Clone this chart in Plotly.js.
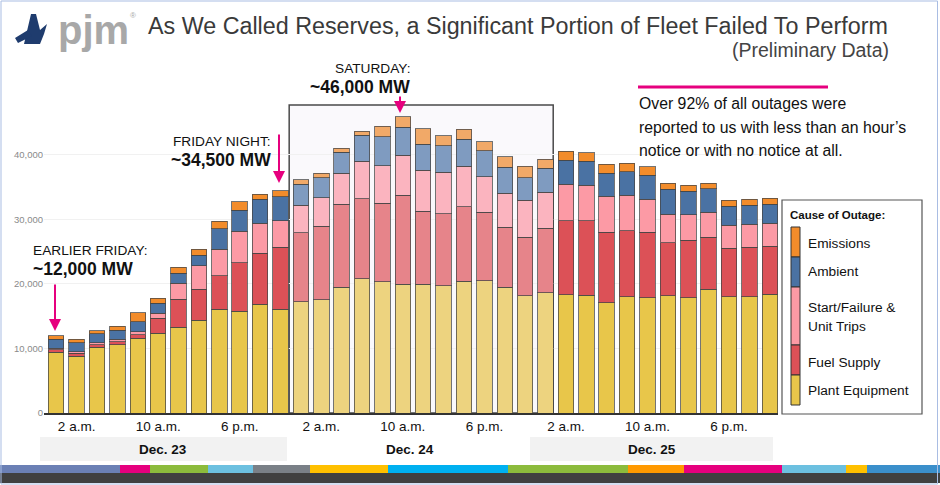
<!DOCTYPE html>
<html>
<head>
<meta charset="utf-8">
<script src="https://cdn.plot.ly/plotly-3.0.1.min.js"></script>
<style>
html,body{margin:0;padding:0;background:#fff;}
#chart{width:940px;height:485px;}
</style>
</head>
<body>
<div id="chart"></div>
<script>
// ---------------- data ----------------
const hours = [0,2,4,6,8,10,12,14,16,18,20,22,24,26,28,30,32,34,36,38,40,42,44,46,48,50,52,54,56,58,60,62,64,66,68,70];
const plantEquipment = [9400,8800,10200,10550,11600,12350,13300,14400,16050,15750,16850,16050,17200,17500,19500,20750,20300,19900,19950,19700,20400,20450,19450,18150,18650,18300,18200,17050,18000,17850,18150,17850,19150,18000,18000,18350];
const fuelSupply = [400,450,400,500,500,2300,4300,4750,5200,7550,7850,9650,10700,11400,12800,12450,12200,13800,11300,11150,11500,10650,9350,9100,9950,11500,11600,10950,10200,10150,8200,8900,8100,7500,7650,7500];
const startFailure = [200,250,300,400,500,800,2500,3650,4100,4850,4650,4100,4300,4450,4850,5750,5800,6200,6300,6450,6300,5500,5250,5700,5600,5650,5500,5550,5500,5100,4450,3950,3850,3600,3550,3550];
const ambient = [1450,1400,1350,1350,1550,1550,1550,1650,3150,3250,3750,3700,3200,3100,3250,4050,4500,4350,4100,4100,4200,4000,4000,3500,3700,3700,3650,3600,3650,3700,3850,3600,3600,2950,3000,2950];
const emissions = [550,500,500,600,1400,750,900,900,1200,1300,750,950,750,700,600,600,1600,1650,2350,1500,1500,1400,1650,1750,1400,1350,1350,1400,1350,1300,950,950,900,900,900,900];
const seriesNames = ["Plant Equipment","Fuel Supply","Start/Failure & Unit Trips","Ambient","Emissions"];
const tickHours = [2,10,18,26,34,42,50,58,66];
const tickLabels = ["2 a.m.","10 a.m.","6 p.m.","2 a.m.","10 a.m.","6 p.m.","2 a.m.","10 a.m.","6 p.m."];
const dayLabels = ["Dec. 23","Dec. 24","Dec. 25"];
const yTicks = [0,10000,20000,30000,40000];

// ---------------- styles ----------------
const darkColors  = ["#E8C64A","#DC5157","#FC9AA5","#4A72A3","#F28C2B"];
const lightColors = ["#EDD37F","#E6848A","#FBB4BF","#7F9BC0","#F1A968"];
const highlightFrom = 24, highlightTo = 48; // Saturday window (hours)
const FONT = "'Liberation Sans',Arial,sans-serif";

const W=940,H=485,L=44,R=162,T=103,B=72;
const pw=W-L-R, ph=H-T-B;
const px = x => (x-L)/pw;
const py = y => (H-B-y)/ph;

const allSeries=[plantEquipment,fuelSupply,startFailure,ambient,emissions];
const traces = allSeries.map((vals,i)=>({
  type:'bar', x:hours, y:vals, name:seriesNames[i],
  marker:{
    color: hours.map(h => (h>=highlightFrom && h<=highlightTo) ? lightColors[i] : darkColors[i]),
    line:{color:'rgba(70,70,70,0.75)', width:1}
  },
  hoverinfo:'skip'
}));

const shapes = [];
const annotations = [];
const txt = (x,y,text,size,anchor,color,extra) => annotations.push(Object.assign({xref:'paper',yref:'paper',x:px(x),y:py(y),text:text,showarrow:false,xanchor:anchor||'left',yanchor:'middle',font:{family:FONT,size:size,color:color||'#111'}},extra||{}));

// Saturday highlight box
shapes.push({type:'rect', xref:'x', yref:'paper', x0:22.85, x1:48.75, y0:0, y1:py(105),
  fillcolor:'#faf9fc', line:{color:'#4a4a4a', width:1.5}, layer:'below'});

// Day label bands
shapes.push({type:'rect', xref:'paper', yref:'paper', x0:px(40), x1:px(287), y0:py(461), y1:py(437), fillcolor:'#f2f2f2', line:{width:0}});
shapes.push({type:'rect', xref:'paper', yref:'paper', x0:px(530), x1:px(773), y0:py(461), y1:py(437), fillcolor:'#f2f2f2', line:{width:0}});
const dayCenters=[163,410,652];
dayLabels.forEach((d,i)=>txt(dayCenters[i],449,'<b>'+d+'</b>',13.5,'center'));

// Bottom decorative stripes
const stripes=[[0,120,'#6B80B5'],[120,150,'#E6007E'],[150,208,'#8CBB3C'],[208,253,'#6CC0E0'],[253,310,'#7A8087'],[310,388,'#FFC000'],[388,508,'#00B0F0'],[508,628,'#8CBB3C'],[628,684,'#FF9900'],[684,782,'#E6007E'],[782,846,'#6CC0E0'],[846,867,'#FFC000'],[867,940,'#3B8FCB']];
stripes.forEach(s=>shapes.push({type:'rect',xref:'paper',yref:'paper',x0:px(s[0]),x1:px(s[1]),y0:py(473),y1:py(465),fillcolor:s[2],line:{width:0}}));
shapes.push({type:'rect',xref:'paper',yref:'paper',x0:px(0),x1:px(940),y0:py(483),y1:py(473),fillcolor:'#404040',line:{width:0}});
shapes.push({type:'rect',xref:'paper',yref:'paper',x0:px(1),x1:px(937.5),y0:py(484),y1:py(1),line:{color:'#a9bde3',width:1}});

// Title
txt(146,26,'As We Called Reserves, a Significant Portion of Fleet Failed To Perform',23.3,'left','#3a3a3a');
txt(891,50,'(Preliminary Data)',19.5,'right','#444');

// Logo
txt(56,30,'<b>pjm</b>',40,'left','#a8a8a8');
txt(128,16,'®',8,'left','#a8a8a8');
shapes.push({type:'path',xref:'paper',yref:'paper',
  path:'M'+px(24)+','+py(44)+' L'+px(31)+','+py(14)+' L'+px(36)+','+py(14)+' L'+px(40)+','+py(30)+' L'+px(47)+','+py(24)+' L'+px(44)+','+py(34)+' L'+px(40)+','+py(44)+' Z',
  fillcolor:'#1f3c6e',line:{width:0}});
shapes.push({type:'path',xref:'paper',yref:'paper',
  path:'M'+px(15)+','+py(38)+' L'+px(28)+','+py(30)+' L'+px(32)+','+py(36)+' L'+px(18)+','+py(43)+' Z',
  fillcolor:'#1f3c6e',line:{width:0}});

// Callouts
const pink='#E6007E';
txt(31,250,'EARLIER FRIDAY:',13.7,'left');
txt(31,269,'<b>~12,000 MW</b>',17.5,'left');
txt(273,141,'FRIDAY NIGHT:',13.7,'right');
txt(273,160,'<b>~34,500 MW</b>',17.5,'right');
txt(373,68,'SATURDAY:',13.7,'center');
txt(360,87,'<b>~46,000 MW</b>',17.5,'center');
[[55,331,-48],[279,183,-50],[400,113,-18]].forEach(a=>annotations.push({xref:'paper',yref:'paper',x:px(a[0]),y:py(a[1]),ax:0,ay:a[2],text:'',showarrow:true,arrowhead:2,arrowsize:1.2,arrowwidth:2,arrowcolor:pink}));

// Notice text
shapes.push({type:'line',xref:'paper',yref:'paper',x0:px(638),x1:px(828),y0:py(87),y1:py(87),line:{color:pink,width:3}});
['Over 92% of all outages were','reported to us with less than an hour\u2019s','notice or with no notice at all.'].forEach((t,i)=>txt(637,104+i*23,t,15.8,'left'));

// Custom legend
shapes.push({type:'rect',xref:'paper',yref:'paper',x0:px(782),x1:px(922),y0:py(414),y1:py(200),fillcolor:'#fff',line:{color:'#555',width:1.2}});
txt(788,215,'<b>Cause of Outage:</b>',11.5,'left');
const legSeg=[[227,257,4],[257,287,3],[287,345,2],[345,375,1],[375,405,0]];
legSeg.forEach(s=>shapes.push({type:'rect',xref:'paper',yref:'paper',x0:px(791),x1:px(800),y0:py(s[1]),y1:py(s[0]),fillcolor:darkColors[s[2]],line:{color:'#333',width:1}}));
const legText=[['Emissions',243],['Ambient',271],['Start/Failure &',307],['Unit Trips',326],['Fuel Supply',362],['Plant Equipment',390]];
legText.forEach(t=>txt(806,t[1],t[0],13.7,'left'));

const layout = {
  width:W, height:H,
  margin:{l:L,r:R,t:T,b:B,pad:0},
  paper_bgcolor:'#ffffff', plot_bgcolor:'rgba(0,0,0,0)',
  barmode:'stack', bargap:0.24,
  showlegend:false,
  font:{family:FONT},
  xaxis:{range:[-1.2,70.8], tickmode:'array', tickvals:tickHours, ticktext:tickLabels,
    showgrid:false, zeroline:false, showline:true, linecolor:'#333', linewidth:1.5,
    ticks:'', tickfont:{family:FONT,size:13.5,color:'#111'}, fixedrange:true},
  yaxis:{range:[0,48000], tickmode:'array', tickvals:yTicks, tickformat:',d',
    showgrid:true, gridcolor:'#f1f1f1', zeroline:false, showline:false,
    ticks:'', tickfont:{family:FONT,size:9.5,color:'#8a8a8a'}, fixedrange:true},
  shapes:shapes, annotations:annotations
};
Plotly.newPlot('chart', traces, layout, {displayModeBar:false, staticPlot:true});
</script>
</body>
</html>
